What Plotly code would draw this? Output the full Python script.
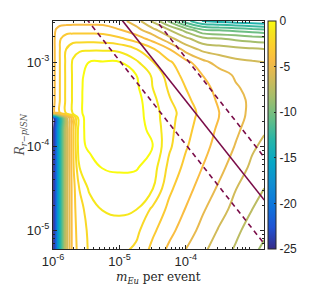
import numpy as np
import plotly.graph_objects as go

# ---- grid (log10 units) ----
x_log = [-6.0, -5.95, -5.9, -5.8, -5.7, -5.6, -5.45, -5.25, -5.0, -4.75,
         -4.5, -4.25, -4.0, -3.75, -3.5, -3.25, -3.0, -2.82]
y_log = [-5.23, -5.0, -4.75, -4.5, -4.25, -4.0, -3.8, -3.66, -3.6, -3.45,
         -3.3, -3.15, -3.0, -2.85, -2.72, -2.62, -2.51]

# estimated log-likelihood values, one row per y_log entry (bottom -> top)
z_grid = [
    [-26.5, -22, -15.3, -7.4, -4.45, -3.65, -2.85, -2.7, -2.75, -3.17, -4.27, -5.21, -6.02, -6.79, -7.49, -8.12, -8.78, -9.2],
    [-26.5, -22, -15.3, -7.4, -4.45, -3.5, -2.8, -2.45, -2.35, -2.75, -3.8, -4.7, -5.5, -6.3, -7.1, -7.77, -8.45, -8.8],
    [-26.5, -22, -15.3, -7.4, -4.4, -3.3, -2.6, -1.95, -1.85, -1.97, -3.2, -4.25, -5.05, -5.87, -6.6, -7.33, -8.0, -8.4],
    [-26.5, -22, -15.3, -7.4, -4.4, -2.95, -1.8, -1.5, -1.45, -1.55, -1.95, -3.8, -4.65, -5.4, -6.15, -6.96, -7.75, -8.0],
    [-26.5, -22, -15.3, -7.4, -4.25, -2.0, -1.45, -0.95, -0.85, -0.9, -1.5, -3.3, -4.28, -5.01, -5.7, -6.48, -7.2, -7.6],
    [-26.5, -22, -15.3, -7.4, -4.2, -1.3, -0.8, -0.5, -0.5, -0.7, -1.0, -2.83, -3.9, -4.67, -5.37, -6.06, -6.86, -7.2],
    [-26.5, -22, -15.3, -7.4, -4.2, -1.3, -0.65, -0.3, -0.3, -0.6, -1.25, -2.7, -3.7, -4.47, -5.17, -5.82, -6.45, -6.9],
    [-26.5, -22, -15.3, -7.4, -4.2, -1.3, -0.6, -0.2, -0.2, -0.55, -1.5, -2.63, -3.57, -4.33, -5.01, -5.64, -6.3, -6.6],
    [-5.3, -4.72, -4.04, -2.79, -1.87, -1.19, -0.5, -0.2, -0.2, -0.55, -1.55, -2.6, -3.5, -4.29, -4.99, -5.63, -6.25, -6.6],
    [-5.3, -4.72, -4.04, -2.79, -1.87, -1.19, -0.5, -0.2, -0.2, -0.6, -1.7, -2.9, -3.77, -4.49, -5.14, -5.7, -6.2, -6.5],
    [-5.3, -4.72, -4.04, -2.79, -1.87, -1.19, -0.55, -0.3, -0.35, -0.8, -2.0, -3.17, -4.02, -4.7, -5.31, -5.9, -6.3, -6.55],
    [-5.3, -4.72, -4.04, -2.79, -1.87, -1.2, -0.7, -0.55, -0.6, -0.98, -2.15, -3.5, -4.3, -5.01, -5.57, -6.14, -6.45, -6.6],
    [-5.3, -4.72, -4.04, -2.79, -1.87, -1.3, -0.97, -0.93, -0.95, -1.8, -2.95, -3.85, -4.67, -5.7, -6.4, -6.75, -6.9, -7.0],
    [-5.3, -4.72, -4.04, -2.95, -2.3, -2.15, -2.1, -2.1, -2.25, -2.9, -3.8, -4.9, -6.35, -7.2, -7.45, -7.65, -7.8, -7.9],
    [-5.3, -4.72, -4.1, -3.55, -3.45, -3.45, -3.45, -3.5, -3.8, -4.45, -5.4, -6.67, -7.75, -8.67, -8.93, -9.2, -9.44, -9.6],
    [-5.3, -4.9, -4.6, -4.4, -4.35, -4.35, -4.35, -4.4, -4.9, -5.6, -6.6, -7.9, -9.3, -10.75, -11.0, -11.2, -11.5, -11.67],
    [-5.45, -5.45, -5.45, -5.45, -5.45, -5.45, -5.45, -5.45, -5.6, -6.5, -8.2, -10.2, -12.6, -14.05, -14.3, -14.6, -14.8, -15.0],
]

# constant-product lines: log10(m * R)
solid_log_product = -7.46
dashed_log_products = [-7.98, -6.95]
line_x_log = [-6.0, -2.82]

x_range = [-6.0, -2.824]
y_range = [-5.222, -2.509]
x_ticks = [-6, -5, -4]
x_ticklabels = ["10<sup>-6</sup>", "10<sup>-5</sup>", "10<sup>-4</sup>"]
y_ticks = [-5, -4, -3]
y_ticklabels = ["10<sup>-5</sup>", "10<sup>-4</sup>", "10<sup>-3</sup>"]
cbar_ticks = [0, -5, -10, -15, -20, -25]
cbar_labels = ["0", "-5", "-10", "-15", "-20", "-25"]
x_title = "<i>m</i><sub><i>Eu</i></sub> per event"
y_title = "<i>R</i><sub><i>r</i>−<i>p</i>/<i>SN</i></sub>"

parula = [
    [0.0, "rgb(53,42,135)"], [0.095, "rgb(32,83,212)"], [0.19, "rgb(13,117,220)"],
    [0.286, "rgb(16,142,210)"], [0.381, "rgb(6,167,198)"], [0.476, "rgb(37,181,169)"],
    [0.571, "rgb(101,190,134)"], [0.667, "rgb(165,190,107)"], [0.762, "rgb(217,186,86)"],
    [0.825, "rgb(248,187,68)"], [0.889, "rgb(252,206,46)"], [0.952, "rgb(245,228,29)"],
    [1.0, "rgb(249,251,14)"],
]

minor_x = [np.log10(k * 10.0**n) for n in (-6, -5, -4, -3) for k in range(2, 10)]
minor_y = [np.log10(k * 10.0**n) for n in (-6, -5, -4, -3) for k in range(2, 10)]

fig = go.Figure()
fig.add_trace(go.Contour(
    x=x_log, y=y_log, z=z_grid,
    contours=dict(start=-25, end=-1, size=1, coloring="lines"),
    line=dict(width=2, smoothing=1.3),
    colorscale=parula, zmin=-25, zmax=0, showscale=False, hoverinfo="skip",
))

lc = "rgb(122,12,72)"
fig.add_trace(go.Scatter(
    x=line_x_log, y=[solid_log_product - v for v in line_x_log],
    mode="lines", line=dict(color=lc, width=1.6), showlegend=False, hoverinfo="skip"))
for p in dashed_log_products:
    fig.add_trace(go.Scatter(
        x=line_x_log, y=[p - v for v in line_x_log],
        mode="lines", line=dict(color=lc, width=1.6, dash="5px,4px"),
        showlegend=False, hoverinfo="skip"))

# colorbar carrier
fig.add_trace(go.Scatter(
    x=[-5.0], y=[-4.0], mode="markers",
    marker=dict(size=1, opacity=0, color=[-10], colorscale=parula, cmin=-25, cmax=0,
                showscale=True,
                colorbar=dict(x=1.0186, xanchor="left", xpad=0, y=0.5, yanchor="middle",
                              len=1.0, lenmode="fraction", ypad=0, thickness=8,
                              outlinewidth=1, outlinecolor="#262626",
                              tickvals=cbar_ticks, ticktext=cbar_labels,
                              ticks="inside", ticklen=2, tickcolor="#262626",
                              tickfont=dict(family="Liberation Sans", size=12, color="#262626"))),
    showlegend=False, hoverinfo="skip"))

axis_common = dict(showgrid=False, zeroline=False, showline=True, linecolor="#262626",
                   linewidth=1.2, mirror="allticks", ticks="inside", ticklen=4,
                   tickcolor="#262626", automargin=False,
                   tickfont=dict(family="Liberation Sans", size=13, color="#262626"))
fig.update_xaxes(range=x_range, tickvals=x_ticks, ticktext=x_ticklabels,
                 minor=dict(tickvals=minor_x, ticks="inside", ticklen=2, tickcolor="#262626"),
                 **axis_common)
fig.update_yaxes(range=y_range, tickvals=y_ticks, ticktext=y_ticklabels,
                 minor=dict(tickvals=minor_y, ticks="inside", ticklen=2, tickcolor="#262626"),
                 **axis_common)

fig.add_annotation(text=x_title, xref="paper", yref="paper", x=0.5, y=-0.125,
                   xanchor="center", yanchor="middle", showarrow=False,
                   font=dict(family="DejaVu Serif", size=12, color="#262626"))
fig.add_annotation(text=y_title, xref="paper", yref="paper", x=-0.15, y=0.5,
                   xanchor="center", yanchor="middle", showarrow=False, textangle=-90,
                   font=dict(family="DejaVu Serif", size=12, color="#555555"))

# the page body adds an 8px offset; size the figure so the plot box lands at 53..268 x 21..249
fig.update_layout(width=304, height=278, margin=dict(l=45, r=44, t=13, b=37),
                  plot_bgcolor="white", paper_bgcolor="white", showlegend=False)

fig.write_html("out.html")
